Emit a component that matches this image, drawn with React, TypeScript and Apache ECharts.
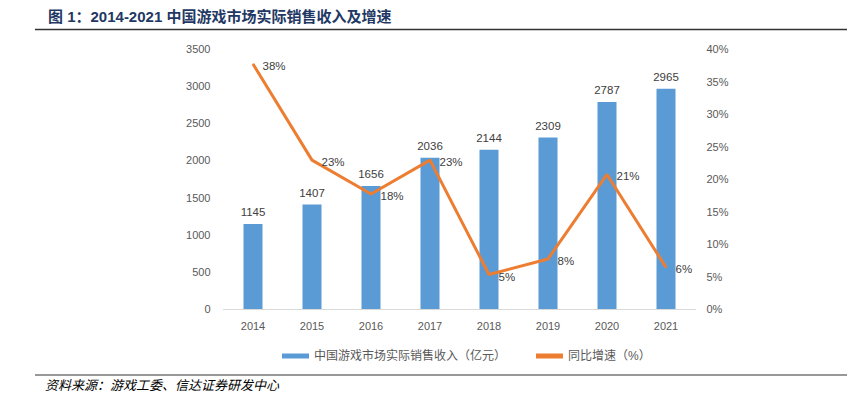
import React, { useEffect, useRef } from "react";
import * as echarts from "echarts";

const categories = ["2014", "2015", "2016", "2017", "2018", "2019", "2020", "2021"];
const revenue = [1145, 1407, 1656, 2036, 2144, 2309, 2787, 2965];
const growth = [37.7, 22.9, 17.7, 22.9, 5.3, 7.7, 20.7, 6.4];
const revenueName = "中国游戏市场实际销售收入（亿元）";
const growthName = "同比增速（%）";
const titleText = "图 1：2014-2021 中国游戏市场实际销售收入及增速";
const sourceText = "资料来源：游戏工委、信达证券研发中心";

const FONT = "'Liberation Sans', 'Noto Sans CJK SC', sans-serif";

export default function App() {
  const ref = useRef<HTMLDivElement>(null);
  useEffect(() => {
    if (!ref.current) return;
    const chart = echarts.init(ref.current, null, { renderer: "svg" });
    chart.setOption({
      animation: false,
      backgroundColor: "#ffffff",
      textStyle: { fontFamily: FONT },
      title: {
        text: titleText,
        left: 43,
        top: 4,
        textStyle: {
          color: "#1F3864",
          fontSize: 15,
          fontWeight: "bold",
          fontFamily: FONT,
        },
      },
      grid: { left: 223.5, right: 151.5, top: 49, bottom: 89, containLabel: false },
      legend: {
        left: 277,
        top: 345,
        itemWidth: 27,
        itemHeight: 5,
        itemGap: 30,
        textStyle: { fontSize: 12, color: "#595959", fontFamily: FONT },
        data: [
          { name: revenueName, icon: "rect" },
          { name: growthName, icon: "rect" },
        ],
      },
      xAxis: {
        type: "category",
        data: categories,
        axisLine: { lineStyle: { color: "#D9D9D9" } },
        axisTick: { show: false },
        axisLabel: { color: "#595959", fontSize: 11, margin: 11 },
      },
      yAxis: [
        {
          type: "value",
          min: 0,
          max: 3500,
          interval: 500,
          splitLine: { show: false },
          axisLine: { show: false },
          axisTick: { show: false },
          axisLabel: { color: "#595959", fontSize: 11, margin: 13, formatter: (v: number) => String(v) },
        },
        {
          type: "value",
          min: 0,
          max: 40,
          interval: 5,
          splitLine: { show: false },
          axisLine: { show: false },
          axisTick: { show: false },
          axisLabel: { color: "#595959", fontSize: 11, margin: 11, formatter: "{value}%" },
        },
      ],
      series: [
        {
          name: revenueName,
          type: "bar",
          data: revenue,
          barWidth: 19,
          itemStyle: { color: "#5B9BD5" },
          label: { show: true, position: "top", distance: 6, color: "#404040", fontSize: 11.5 },
        },
        {
          name: growthName,
          type: "line",
          yAxisIndex: 1,
          data: growth,
          symbol: "circle",
          symbolSize: 1,
          showSymbol: true,
          lineStyle: { color: "#ED7D31", width: 3 },
          itemStyle: { color: "#ED7D31" },
          z: 5,
          label: {
            show: true,
            position: "right",
            distance: 9,
            offset: [0, 2],
            color: "#404040",
            fontSize: 11.5,
            formatter: (p: any) => Math.round(p.value) + "%",
          },
        },
      ],
      graphic: [
        {
          type: "line",
          shape: { x1: 35, y1: 29.5, x2: 847, y2: 29.5 },
          style: { stroke: "#333333", lineWidth: 1.5 },
        },
        {
          type: "line",
          shape: { x1: 35, y1: 375, x2: 847, y2: 375 },
          style: { stroke: "#333333", lineWidth: 1 },
        },
        {
          type: "text",
          left: 45,
          top: 378,
          style: {
            text: sourceText,
            fill: "#000000",
            fontSize: 13,
            fontStyle: "italic",
            fontFamily: "'Noto Sans CJK SC', sans-serif",
          },
        },
      ],
    });
    return () => chart.dispose();
  }, []);
  return (
    <div
      ref={ref}
      style={{ position: "fixed", left: 0, top: 0, width: 847, height: 398 }}
    />
  );
}
